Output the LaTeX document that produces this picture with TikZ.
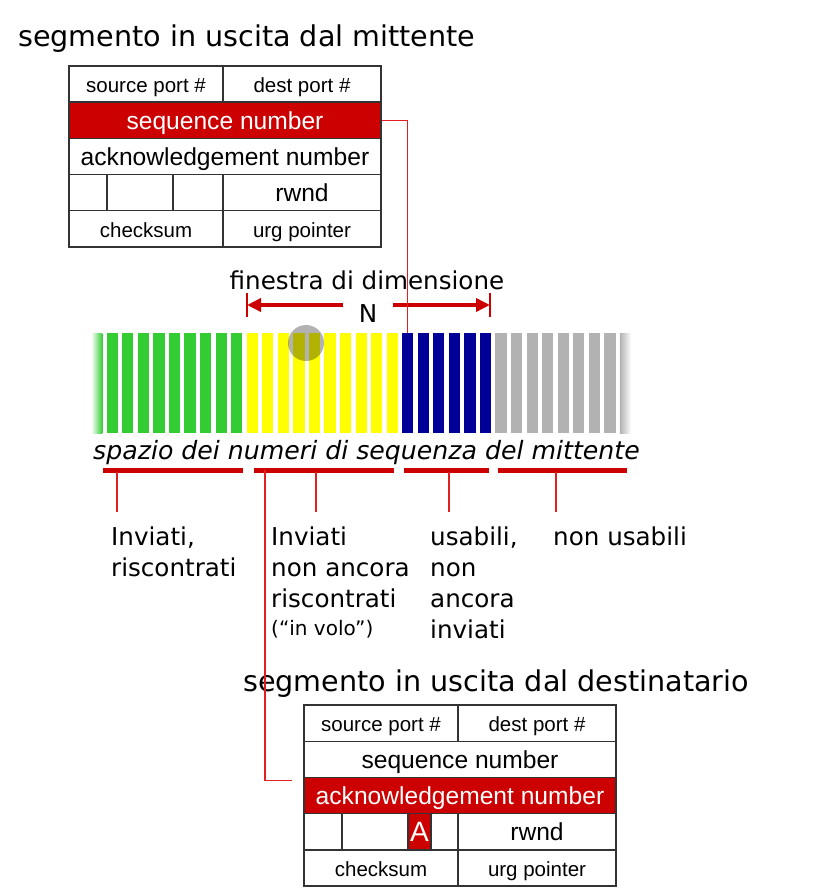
\documentclass[tikz,border=0pt]{standalone}
\usepackage{fontspec}
\setmainfont{Liberation Sans}
\newfontfamily\tahoma{DejaVu Sans}
\usetikzlibrary{arrows.meta}
\definecolor{segred}{HTML}{CC0000}
\definecolor{linkred}{HTML}{E02020}
\definecolor{ackgreen}{HTML}{33CC33}
\definecolor{flyyellow}{HTML}{FFFF00}
\definecolor{usblue}{HTML}{000099}
\definecolor{nogray}{HTML}{B2B2B2}

\newcommand{\fieldfont}{\fontsize{24.6}{28}\selectfont}
\newcommand{\portfont}{\fontsize{20.5}{24}\selectfont}
\newcommand{\labelfont}{\tahoma\fontsize{24.6}{31}\selectfont}

% one TCP header; #1 = style of seq row, #2 = style of ack row
\newcommand{\tcpheader}[2]{
  \node[field, font=\portfont, minimum width=154pt] (src) at (77,18.1) {source port \#};
  \node[field, font=\portfont, minimum width=158pt] (dst) at (233,18.1) {dest port \#};
  \node[field, #1, minimum width=312pt] (seq) at (156,54.3) {sequence number};
  \node[field, #2, minimum width=312pt] (ack) at (156,90.5) {acknowledgement number};
  \node[field, minimum width=38pt] (fa) at (19,126.7) {};
  \node[field, minimum width=66pt] (fb) at (71,126.7) {};
  \node[field, minimum width=50pt] (fc) at (129,126.7) {};
  \node[field, minimum width=158pt] (rwnd) at (233,126.7) {rwnd};
  \node[field, font=\portfont, minimum width=154pt] (chk) at (77,162.9) {checksum};
  \node[field, font=\portfont, minimum width=158pt] (urg) at (233,162.9) {urg pointer};
}

\begin{document}
\begin{tikzpicture}[x=1pt, y=-1pt,
    field/.style={draw=black!80, line width=1.4pt, minimum height=36.2pt, inner sep=0pt,
        text height=17.6pt, text depth=0pt, font=\fieldfont},
    hilite/.style={fill=segred, text=white},
    title/.style={anchor=base west, inner sep=0pt, font=\tahoma\fontsize{28.6}{32}\selectfont},
    bar/.style={minimum width=11.2pt, minimum height=100pt, inner sep=0pt, draw=none},
    winarrow/.style={draw=segred, line width=4pt, -{Triangle[length=14pt,width=13pt]}},
    wintick/.style={draw=segred, line width=1.4pt},
    under/.style={draw=segred, line width=5pt},
    tick/.style={draw=linkred, line width=1.4pt},
    link/.style={draw=linkred, line width=1.4pt},
    lbl/.style={anchor=north west, inner sep=0pt, align=left, font=\labelfont}]
    \useasboundingbox (0,0) rectangle (819,890);

    % Headers
    \node[title] (sndtitle) at (18,47) {segmento in uscita dal mittente};
    \begin{scope}[shift={(69,66)}, name prefix=snd-]
        \tcpheader{hilite}{}
    \end{scope}
    \node[title] (rcvtitle) at (243,691) {segmento in uscita dal destinatario};
    \begin{scope}[shift={(304,705)}, name prefix=rcv-]
        \tcpheader{}{hilite}
        \node[field, hilite, minimum width=23pt, text height=20pt, font=\fontsize{28}{30}\selectfont] (abit) at (115.5,126.7) {A};
    \end{scope}

    % Sequence number space
    \node[bar, left color=white, right color=ackgreen] (bar0) at (96.75,383) {};
    \foreach \i [evaluate=\i as \x using 96.75+15.55*\i] in {1,...,9}
        \node[bar, fill=ackgreen] (bar\i) at (\x,383) {};
    \foreach \i [evaluate=\i as \x using 96.75+15.55*\i] in {10,...,19}
        \node[bar, fill=flyyellow] (bar\i) at (\x,383) {};
    \foreach \i [evaluate=\i as \x using 96.75+15.55*\i] in {20,...,25}
        \node[bar, fill=usblue] (bar\i) at (\x,383) {};
    \foreach \i [evaluate=\i as \x using 96.75+15.55*\i] in {26,...,33}
        \node[bar, fill=nogray] (bar\i) at (\x,383) {};
    \node[bar, left color=nogray, right color=white] (bar34) at (625.45,383) {};
    \node[circle, fill=black, fill opacity=0.3, minimum size=36pt, inner sep=0pt] (pointer) at (306,343) {};

    % Window
    \node[anchor=base, inner sep=0pt, font=\labelfont] (win) at (367,289) {finestra di dimensione};
    \node[anchor=base, inner sep=0pt, font=\labelfont] (N) at (368,322) {N};
    \coordinate (winL) at (247,305);
    \coordinate (winR) at (490,305);
    \coordinate (winLs) at (343,305);
    \coordinate (winRs) at (393,305);
    \draw[winarrow] (winLs) -- (winL);
    \draw[winarrow] (winRs) -- (winR);
    \draw[wintick] ([yshift=12pt]winL) -- ([yshift=-12pt]winL);
    \draw[wintick] ([yshift=12pt]winR) -- ([yshift=-12pt]winR);

    \node[anchor=base west, inner sep=0pt, font=\tahoma\itshape\fontsize{25.2}{30}\selectfont] (space) at (93,459) {spazio dei numeri di sequenza del mittente};
    \foreach \a/\b/\t [count=\k] in {103/243/117, 254/394/316, 404/489/449, 498/627/556} {
        \draw[under] (\a,470) -- (\b,470);
        \coordinate (ut\k) at (\t,472);
        \coordinate (ub\k) at (\t,512);
        \draw[tick] (ut\k) -- (ub\k);
    }

    % Labels
    \node[lbl] (sentack) at (111,527) {Inviati,\\riscontrati};
    \node[lbl] (inflightlbl) at (271,527) {Inviati\\non ancora\\riscontrati\\[-3pt]{\fontsize{20}{24}\selectfont(“in volo”)}};
    \node[lbl] (usable) at (430,527) {usabili,\\non\\ancora\\inviati};
    \node[lbl] (notusable) at (553,527) {non usabili};

    % Links
    \draw[link] (snd-seq.east) -| (bar20.north);
    \coordinate (inflight) at (265,470);
    \draw[link] (inflight) |- ([xshift=-11pt,yshift=15pt]rcv-ack.west);
\end{tikzpicture}
\end{document}
